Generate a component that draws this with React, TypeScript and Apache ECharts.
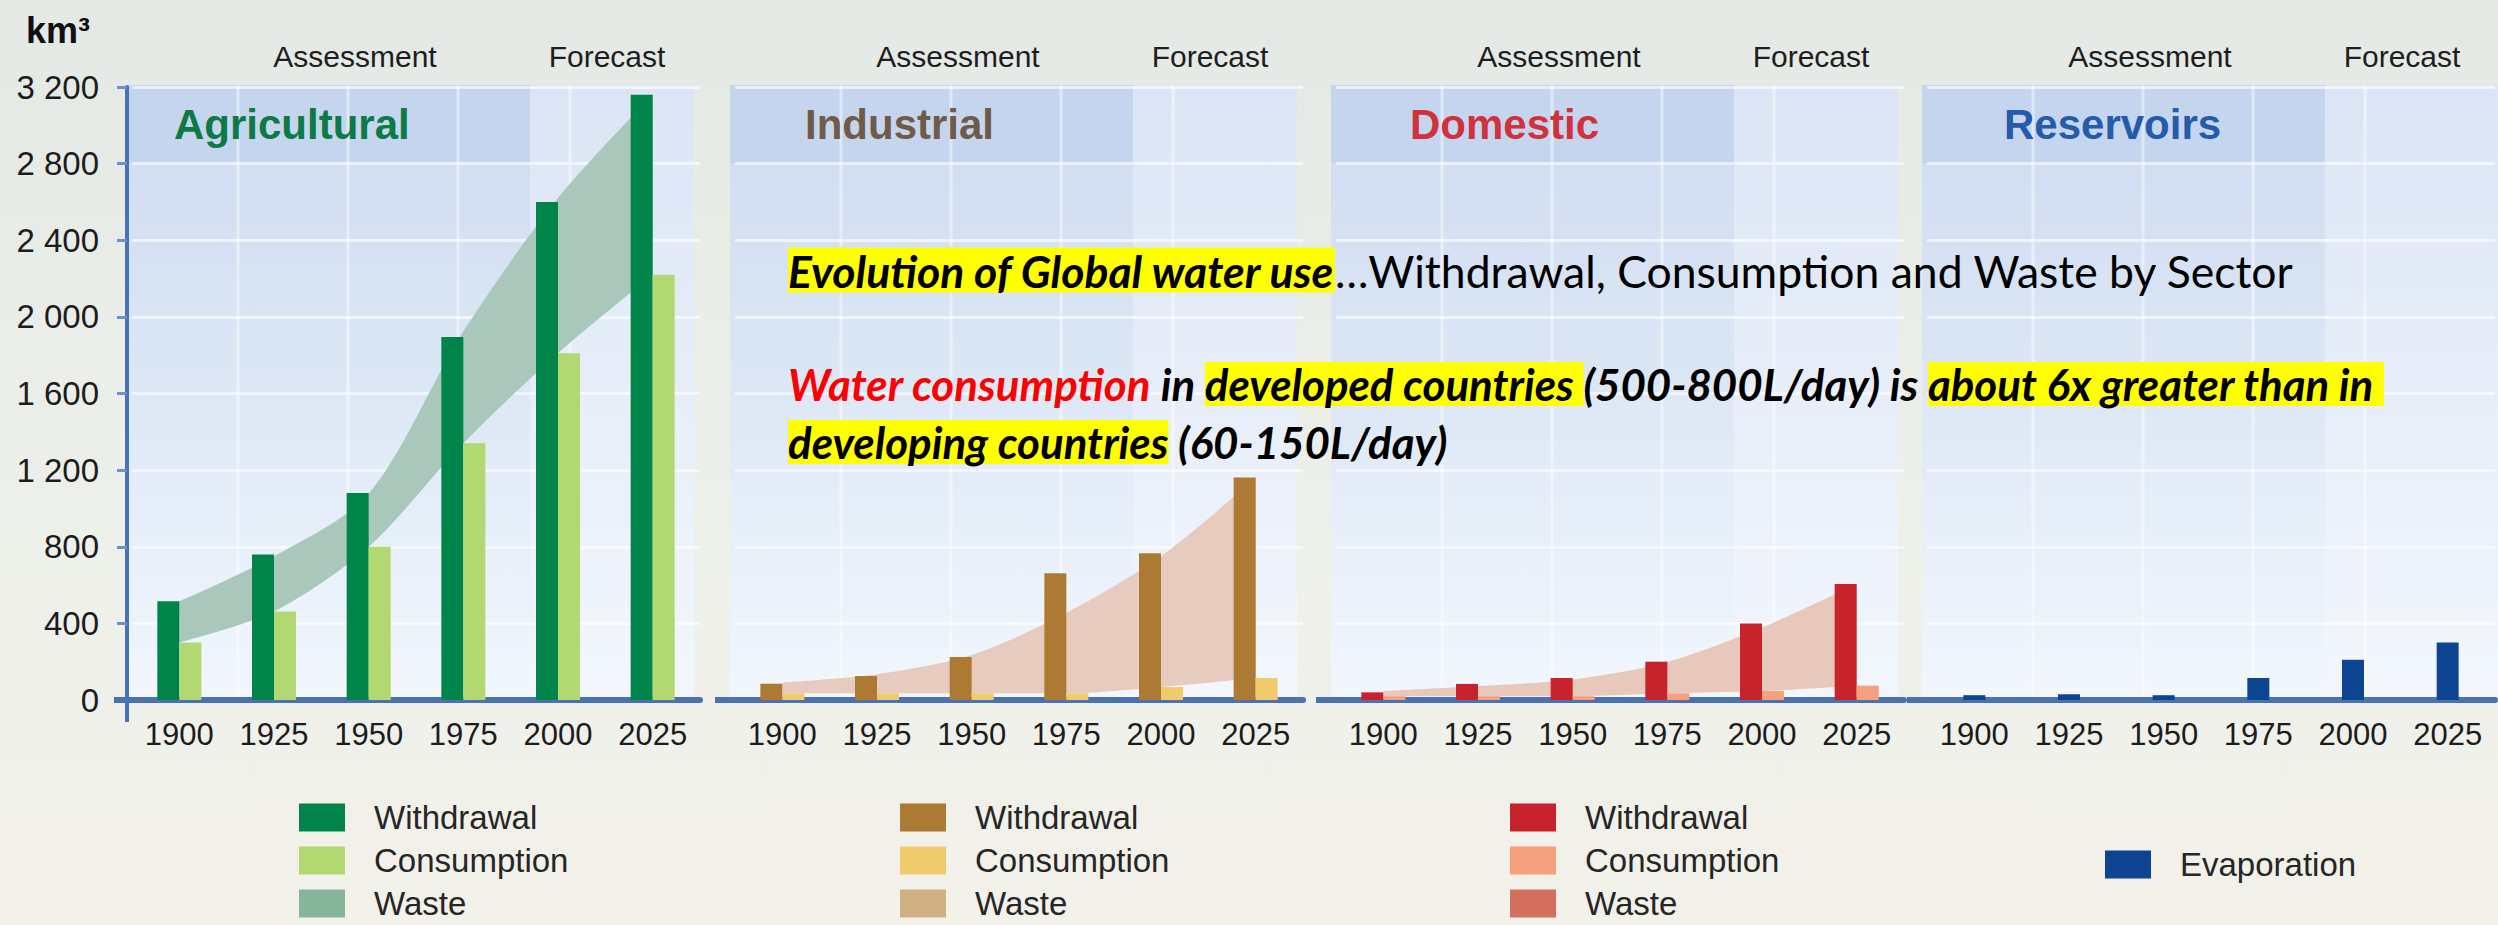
import React, { useEffect, useRef } from 'react';
import * as echarts from 'echarts';

// ---------- data (km3) ----------
const years = ['1900', '1925', '1950', '1975', '2000', '2025'];

const agriWithdrawal = [515, 760, 1080, 1895, 2600, 3160];
const agriConsumption = [300, 462, 800, 1340, 1810, 2220];
const agriWaste = [215, 288, 277, 584, 810, 940];

const indWithdrawal = [85, 125, 224, 662, 766, 1162];
const indConsumption = [35, 35, 35, 35, 68, 115];
const indWaste = [57, 100, 200, 420, 682, 1045];

const domWithdrawal = [40, 84, 115, 200, 400, 605];
const domConsumption = [20, 20, 20, 35, 47, 75];
const domWaste = [27, 53, 87, 163, 331, 530];

const resEvaporation = [25, 30, 25, 115, 210, 300];

const yMin = 0;
const yMax = 3200;
const yStep = 400;

const legendNames: Record<string, string> = {
  W: 'Withdrawal',
  C: 'Consumption',
  Waste: 'Waste',
  E: 'Evaporation',
};

const FONT = "'Liberation Sans', Arial, Helvetica, sans-serif";
const TFONT = "Lato, 'Open Sans', 'Noto Sans', sans-serif";
const AXIS_BLUE = '#4b71b5';

type Panel = {
  key: string;
  title: string;
  titleColor: string;
  titleDx: number;
  left: number;
  W?: number[];
  C?: number[];
  Wa?: number[];
  E?: number[];
  wColor?: string;
  cColor?: string;
  band?: string;
  wasteLegend?: string;
  legendLeft: number;
  legendTop: number;
};

const panels: Panel[] = [
  {
    key: 'agri', title: 'Agricultural', titleColor: '#0b7a44', titleDx: 42, left: 132,
    W: agriWithdrawal, C: agriConsumption, Wa: agriWaste,
    wColor: '#00844a', cColor: '#b2d872', band: '#a9c8bb', wasteLegend: '#86b59a',
    legendLeft: 299, legendTop: 801,
  },
  {
    key: 'ind', title: 'Industrial', titleColor: '#6f5b48', titleDx: 70, left: 735,
    W: indWithdrawal, C: indConsumption, Wa: indWaste,
    wColor: '#ad7a34', cColor: '#efcb6c', band: '#e8cbbf', wasteLegend: '#cfb184',
    legendLeft: 900, legendTop: 801,
  },
  {
    key: 'dom', title: 'Domestic', titleColor: '#d0323b', titleDx: 74, left: 1336,
    W: domWithdrawal, C: domConsumption, Wa: domWaste,
    wColor: '#c8232d', cColor: '#f6a07e', band: '#e9c8bc', wasteLegend: '#d46e5e',
    legendLeft: 1510, legendTop: 801,
  },
  {
    key: 'res', title: 'Reservoirs', titleColor: '#245cab', titleDx: 77, left: 1927,
    E: resEvaporation, wColor: '#0d4592',
    legendLeft: 2105, legendTop: 848,
  },
];

const GRID_W = 568;
const GRID_TOP = 87;
const GRID_BOTTOM_Y = 700;
const BG_TOP = 85;
const HEADER_BOTTOM = 163;
const ASSESS_SPLIT = 398;

function fmtY(v: number) {
  if (v >= 1000) {
    const th = Math.floor(v / 1000);
    const rest = String(v % 1000).padStart(3, '0');
    return th + ' ' + rest;
  }
  return String(v);
}

function buildOption() {
  const grids: any[] = [];
  const xAxes: any[] = [];
  const yAxes: any[] = [];
  const series: any[] = [];
  const legends: any[] = [];
  const graphics: any[] = [];

  panels.forEach((p, i) => {
    grids.push({ left: p.left, top: GRID_TOP, width: GRID_W, height: GRID_BOTTOM_Y - GRID_TOP });
    xAxes.push({
      type: 'category', gridIndex: i, data: years, boundaryGap: true,
      axisLine: { show: true, lineStyle: { color: AXIS_BLUE, width: 6 } },
      axisTick: { show: false },
      axisLabel: { fontFamily: FONT, fontSize: 31, color: '#1c1c1c', margin: 19 },
      splitLine: { show: false },
    });
    yAxes.push({
      type: 'value', gridIndex: i, min: yMin, max: yMax, interval: yStep,
      offset: i === 0 ? 5 : 0,
      axisLine: { show: i === 0, lineStyle: { color: AXIS_BLUE, width: 4 } },
      axisTick: { show: i === 0, length: 10, lineStyle: { color: '#6d8fcb', width: 3 } },
      axisLabel: {
        show: i === 0, fontFamily: FONT, fontSize: 33, color: '#1c1c1c', margin: 28,
        formatter: (v: number) => fmtY(v),
      },
      splitLine: { show: true, lineStyle: { color: 'rgba(255,255,255,0.6)', width: 3 } },
    });

    if (p.E) {
      series.push({
        type: 'bar', name: p.key + '-E', xAxisIndex: i, yAxisIndex: i, data: p.E,
        barWidth: 22, itemStyle: { color: p.wColor }, z: 3,
      });
      legends.push({
        data: [p.key + '-E'],
      });
    } else {
      series.push({
        type: 'line', name: p.key + '-base', xAxisIndex: i, yAxisIndex: i, data: p.C,
        stack: p.key, symbol: 'none', smooth: 0.3, silent: true,
        lineStyle: { width: 0, opacity: 0 }, z: 1,
      });
      series.push({
        type: 'line', name: p.key + '-Waste', xAxisIndex: i, yAxisIndex: i, data: p.Wa,
        stack: p.key, symbol: 'none', smooth: 0.3, silent: true,
        lineStyle: { width: 0, opacity: 0 },
        itemStyle: { color: p.wasteLegend },
        areaStyle: { color: p.band, opacity: 1 }, z: 1,
      });
      series.push({
        type: 'bar', name: p.key + '-W', xAxisIndex: i, yAxisIndex: i, data: p.W,
        barWidth: 22, barGap: '0%', itemStyle: { color: p.wColor }, z: 3,
      });
      series.push({
        type: 'bar', name: p.key + '-C', xAxisIndex: i, yAxisIndex: i, data: p.C,
        barWidth: 22, barGap: '0%', itemStyle: { color: p.cColor }, z: 3,
      });
      legends.push({
        data: [p.key + '-W', p.key + '-C', p.key + '-Waste'],
      });
    }
    const lg = legends[legends.length - 1];
    Object.assign(lg, {
      orient: 'vertical', left: p.legendLeft, top: p.legendTop, height: 200, padding: 0,
      itemWidth: 46, itemHeight: 28, itemGap: 10, icon: 'rect', selectedMode: false,
      itemStyle: { borderWidth: 0 },
      formatter: (name: string) => legendNames[name.split('-')[1]],
      textStyle: { fontFamily: FONT, fontSize: 33, color: '#262626', lineHeight: 28, padding: [0, 0, 0, 24] },
    });

    // ---------- panel background decoration ----------
    const bgL = p.left - 5;
    const bgR = i === 3 ? 2498 : p.left + 562;
    const split = p.left + ASSESS_SPLIT;
    graphics.push({
      type: 'rect', z: -10, silent: true,
      shape: { x: bgL, y: BG_TOP, width: split - bgL, height: GRID_BOTTOM_Y - BG_TOP },
      style: {
        fill: new echarts.graphic.LinearGradient(0, 0, 0, 1, [
          { offset: 0, color: '#cedbf0' },
          { offset: 0.45, color: '#dbe6f5' },
          { offset: 1, color: '#f2f7fd' },
        ]),
      },
    });
    graphics.push({
      type: 'rect', z: -9, silent: true,
      shape: { x: bgL, y: BG_TOP, width: split - bgL, height: HEADER_BOTTOM - BG_TOP },
      style: { fill: '#c5d5ee' },
    });
    graphics.push({
      type: 'rect', z: -10, silent: true,
      shape: { x: split, y: BG_TOP, width: bgR - split, height: GRID_BOTTOM_Y - BG_TOP },
      style: {
        fill: new echarts.graphic.LinearGradient(0, 0, 0, 1, [
          { offset: 0, color: '#dbe5f5' },
          { offset: 1, color: '#f3f7fd' },
        ]),
      },
    });
    [106, 216, 326, 438].forEach((dx) => {
      graphics.push({
        type: 'line', z: -8, silent: true,
        shape: { x1: p.left + dx, y1: BG_TOP, x2: p.left + dx, y2: GRID_BOTTOM_Y },
        style: { stroke: 'rgba(255,255,255,0.45)', lineWidth: 3 },
      });
    });
    // axis line extension to the left
    graphics.push({
      type: 'line', z: 5, silent: true,
      shape: { x1: p.left - (i === 0 ? 18 : 20), y1: GRID_BOTTOM_Y, x2: p.left, y2: GRID_BOTTOM_Y },
      style: { stroke: AXIS_BLUE, lineWidth: 6 },
    });
    // header labels
    graphics.push({
      type: 'text', z: 20, silent: true,
      style: {
        text: 'Assessment', x: p.left + 223, y: 56, fontFamily: FONT, fontSize: 30,
        fill: '#1e1e1e', align: 'center', verticalAlign: 'middle',
        textAlign: 'center', textVerticalAlign: 'middle',
      },
    });
    graphics.push({
      type: 'text', z: 20, silent: true,
      style: {
        text: 'Forecast', x: p.left + 475, y: 56, fontFamily: FONT, fontSize: 30,
        fill: '#1e1e1e', align: 'center', verticalAlign: 'middle',
        textAlign: 'center', textVerticalAlign: 'middle',
      },
    });
    graphics.push({
      type: 'text', z: 20, silent: true,
      style: {
        text: p.title, x: p.left + p.titleDx, y: 124, fontFamily: FONT, fontSize: 42,
        fontWeight: 'bold', fill: p.titleColor, align: 'left', verticalAlign: 'middle',
        textAlign: 'left', textVerticalAlign: 'middle',
      },
    });
  });

  // y axis extension below zero
  graphics.push({
    type: 'line', z: 5, silent: true,
    shape: { x1: 127, y1: GRID_BOTTOM_Y, x2: 127, y2: 722 },
    style: { stroke: AXIS_BLUE, lineWidth: 4 },
  });
  // unit
  graphics.push({
    type: 'text', z: 20, silent: true,
    style: {
      text: 'km³', x: 26, y: 30, fontFamily: FONT, fontSize: 36, fontWeight: 'bold',
      fill: '#111', align: 'left', verticalAlign: 'middle', textAlign: 'left', textVerticalAlign: 'middle',
    },
  });

  // ---------- overlay annotation ----------
  const mk = (size: number) => {
    const tBase: any = { fontFamily: TFONT, fontSize: size, fontWeight: 'bold', fontStyle: 'italic', fill: '#000', lineHeight: 52 };
    return {
      hl: { ...tBase, backgroundColor: '#ffff00' },
      b: { ...tBase },
      n: { ...tBase, fontWeight: 'normal', fontStyle: 'normal' },
      r: { ...tBase, fill: '#ff0000' },
    };
  };
  const lines = [
    { y: 270, size: 44.5, text: '{hl|Evolution of Global water use}{n|…Withdrawal, Consumption and Waste by Sector}' },
    { y: 384, size: 43.8, text: '{r|Water consumption}{b| in }{hl|developed countries }{b|(500-800L/day) is }{hl|about 6x greater than in }' },
    { y: 442, size: 43.8, text: '{hl|developing countries}{b| (60-150L/day)}' },
  ];
  lines.forEach((l) => {
    graphics.push({
      type: 'text', z: 50, silent: true,
      style: {
        text: l.text, x: 788, y: l.y, rich: mk(l.size), fontFamily: TFONT, fontSize: l.size,
        align: 'left', verticalAlign: 'middle', textAlign: 'left', textVerticalAlign: 'middle',
      },
    });
  });

  return {
    animation: false,
    backgroundColor: 'transparent',
    grid: grids,
    xAxis: xAxes,
    yAxis: yAxes,
    legend: legends,
    series,
    graphic: { elements: graphics },
  };
}

export default function App() {
  const ref = useRef<HTMLDivElement>(null);
  useEffect(() => {
    if (!ref.current) return;
    const chart = echarts.init(ref.current, undefined, { renderer: 'svg' });
    chart.setOption(buildOption() as any);
    return () => chart.dispose();
  }, []);
  return (
    <div
      style={{
        position: 'absolute', left: 0, top: 0, width: 2498, height: 925,
        background: 'linear-gradient(180deg, #e4e9e5 0%, #eef0ea 60%, #f2f1ea 100%)',
      }}
    >
      <div ref={ref} style={{ width: 2498, height: 925 }} />
    </div>
  );
}
